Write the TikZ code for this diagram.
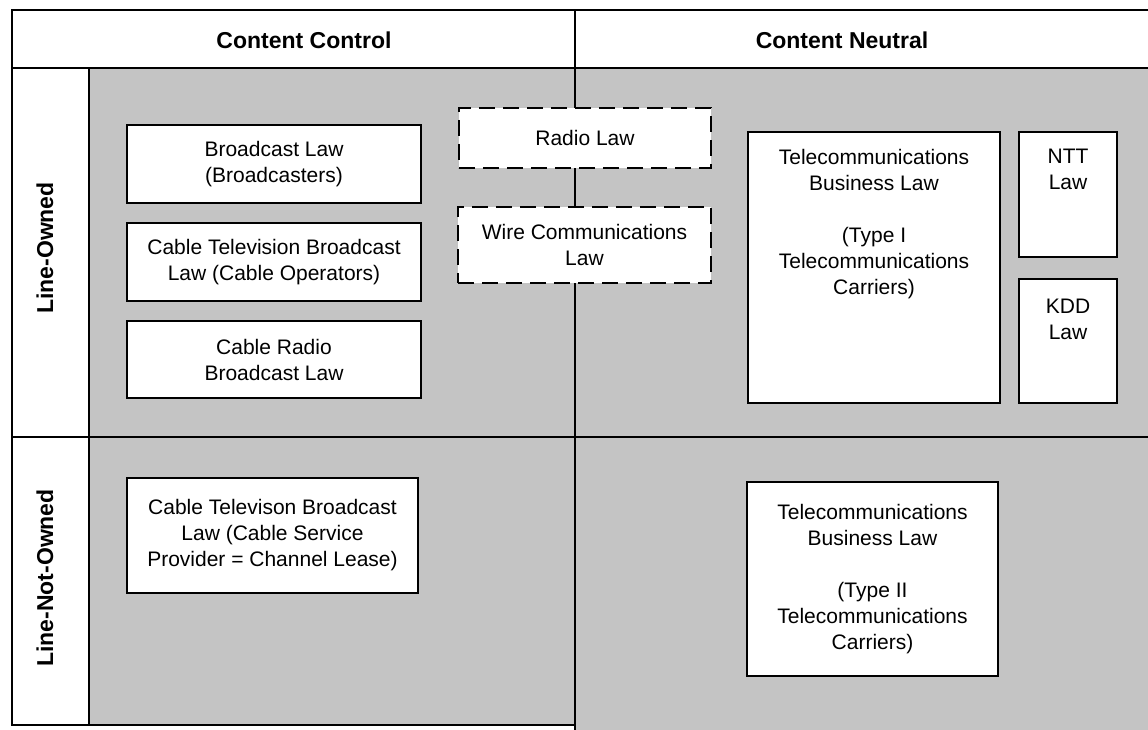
\documentclass[tikz,border=0pt]{standalone}
\usepackage{fontspec}
\setmainfont{Liberation Sans}
\begin{document}
\begin{tikzpicture}[x=1pt,y=-1pt,
  frame/.style={line width=2.8pt,line cap=rect},
  screen/.style={fill=black!23},
  hdr/.style={font=\fontsize{23}{28}\selectfont\bfseries,inner sep=0pt},
  rowlabel/.style={font=\fontsize{23}{28}\selectfont\bfseries,inner sep=0pt,rotate=90},
  lawbox/.style={draw,fill=white,line width=1.9pt,inner sep=0pt,align=center,
    font=\fontsize{21}{26}\selectfont},
  dashbox/.style={lawbox,dash pattern=on 16pt off 8pt}]
\useasboundingbox (0,0) rectangle (1148,730);

% halftone background of the four quadrants
\fill[screen] (89,68) -- (1148,68) -- (1148,730) -- (575,730) -- (575,725) -- (89,725) -- cycle;

% table rules
\draw[frame] (12,10) -- (1148,10);
\draw[frame] (12,68) -- (1148,68);
\draw[frame] (12,437) -- (1148,437);
\draw[frame] (12,10) -- (12,725) -- (575,725);
\draw[frame] (89,68) -- (89,725);
\draw[frame] (575,10) -- (575,730);

% column and row headings
\node[hdr] (cc) at (304,40) {Content Control};
\node[hdr] (cn) at (842,40) {Content Neutral};
\node[rowlabel] (lo) at (45,248) {Line-Owned};
\node[rowlabel] (lno) at (45,578) {Line-Not-Owned};

% content control, line owned
\node[lawbox,minimum width=294,minimum height=78] (bl) at (274,164)
  {Broadcast Law\\(Broadcasters)};
\node[lawbox,minimum width=294,minimum height=78] (ctv) at (274,262)
  {Cable Television Broadcast\\Law (Cable Operators)};
\node[lawbox,minimum width=294,minimum height=77] (crb) at (274,359.5)
  {Cable Radio\\Broadcast Law};

% laws spanning both columns
\node[dashbox,minimum width=252,minimum height=60] (radio) at (585,138)
  {Radio Law};
\node[dashbox,minimum width=253,minimum height=76] (wire) at (584.5,245)
  {Wire Communications\\Law};

% content neutral, line owned
\node[lawbox,minimum width=252,minimum height=271] (tbl1) at (874,267.5)
  {\parbox[c][271pt][t]{250pt}{\centering\vspace*{17pt}Telecommunications\\
   Business Law\\[26pt](Type I\\Telecommunications\\Carriers)}};
\node[lawbox,minimum width=98,minimum height=125] (ntt) at (1068,194.5)
  {\parbox[c][125pt][t]{96pt}{\centering\vspace*{17pt}NTT\\Law}};
\node[lawbox,minimum width=98,minimum height=124] (kdd) at (1068,341)
  {\parbox[c][124pt][t]{96pt}{\centering\vspace*{20pt}KDD\\Law}};

% line not owned
\node[lawbox,minimum width=291,minimum height=115] (ctvs) at (272.5,535.5)
  {Cable Televison Broadcast\\Law (Cable Service\\Provider = Channel Lease)};
\node[lawbox,minimum width=251,minimum height=194] (tbl2) at (872.5,579)
  {Telecommunications\\Business Law\\[26pt](Type II\\Telecommunications\\Carriers)};
\end{tikzpicture}
\end{document}
